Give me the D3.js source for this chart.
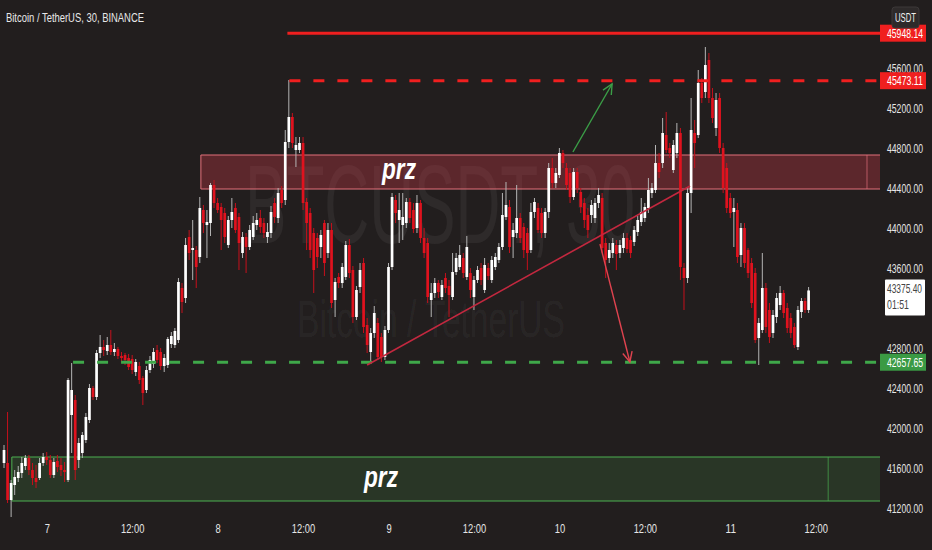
<!DOCTYPE html>
<html><head><meta charset="utf-8">
<script src="https://cdn.jsdelivr.net/npm/d3@7/dist/d3.min.js"></script>
<style>
html,body{margin:0;padding:0;background:#221e1e;}
svg{display:block;}
text{font-family:"Liberation Sans",Arial,sans-serif;}
</style></head><body>
<svg id="c" width="932" height="550"></svg>
<script>
// ---- data ----
const title = "Bitcoin / TetherUS, 30, BINANCE";
const startTime = Date.UTC(2022, 1, 6, 18, 0); // first 30m candle
const opens = [41650,41650,41280,41430,41500,41550,41620,41700,41580,41500,41500,41650,41710,41680,41530,41670,41630,41580,41480,42130,
42280,41680,41750,41880,42080,42400,42310,42750,42810,42770,42830,42760,42790,42720,42730,42700,42690,42560,42620,42500,
42380,42580,42640,42780,42760,42620,42630,42840,42830,42880,43400,43300,43910,43780,43780,43710,44180,44030,44050,44430,
44250,44210,44150,43830,44080,44200,44110,43750,43910,43810,43910,44030,44100,44050,43910,43950,44250,44100,44380,44280,
44860,45110,44780,44780,44850,44260,44150,43950,43900,43810,44050,43750,43980,43280,43510,43450,43510,43830,43580,43110,
43410,43650,43030,42760,42950,43050,42910,42710,42980,43610,44280,44080,44030,44050,44260,44180,44000,44250,43900,43850,
43280,43350,43450,43310,43500,43420,43310,43560,43610,43700,43510,43550,43310,43480,43600,43380,43600,43480,43610,43680,
43810,44110,44210,43910,43950,44100,44010,43950,43780,44160,44200,44150,43950,44160,44600,44450,44530,44750,44600,44550,
44310,44560,44360,44250,44130,44130,44100,44250,44300,43850,43700,43750,43830,43750,43800,43900,43880,43860,43960,44060,
44100,44200,44350,44380,44650,44650,44930,44800,44580,44750,44950,43600,43500,44350,44950,44930,45450,45360,45680,45300,
45000,45300,44800,44600,44300,44160,44180,43730,44000,43780,43650,43550,42900,42980,43400,43180,42950,43110,43230,43350,
43200,43100,43010,42810,43160,43270,43180];
const highs = [41830,42160,41480,41580,41620,41710,41730,41730,41650,41630,41700,41750,41760,41730,41700,41730,41700,41660,42500,42650,
42330,41900,41960,42150,42440,42420,42780,42930,42880,42910,42980,42850,42810,42760,42750,42740,42730,42690,42660,42520,
42620,42720,42800,42830,42800,42740,42910,42960,43000,43500,43450,43900,43980,44080,43820,44310,44230,44180,44450,44480,
44300,44250,44200,44120,44300,44250,44150,43960,43950,44030,44120,44150,44180,44100,44050,44220,44300,44400,44420,44980,
45480,45150,44910,44910,44910,44300,44200,44000,43950,43980,44080,44050,44050,43500,43550,43650,43870,43890,43620,43420,
43650,43700,43100,43000,43220,43100,42950,43020,43650,44350,44330,44350,44350,44300,44300,44250,44330,44280,44000,43900,
43450,43500,43480,43480,43550,43480,43750,43750,43830,43750,43920,43600,43520,43620,43650,43700,43650,43720,43750,43850,
44350,44460,44280,44050,44430,44150,44050,44000,44250,44300,44250,44200,44200,44650,44700,44600,44800,44780,44650,44600,
44600,44600,44400,44300,44200,44280,44300,44400,44350,43900,43850,43900,43880,43880,43950,43950,43920,44020,44120,44300,
44250,44500,44450,44830,44750,45100,45160,44850,44880,45050,45000,43650,44400,45300,45080,45580,45500,45810,45750,45400,
45350,45350,44850,44650,44350,44300,44250,44050,44050,43800,43700,43600,43100,43750,43450,43250,43180,43350,43420,43380,
43250,43150,43050,43220,43300,43300,43410];
const lows = [41600,41250,41110,41330,41460,41500,41580,41530,41430,41400,41480,41620,41630,41500,41500,41560,41520,41460,41460,41750,
41480,41600,41700,41850,42050,42280,42280,42700,42720,42730,42730,42720,42690,42660,42630,42580,42540,42520,42440,42230,
42350,42550,42600,42650,42580,42560,42600,42800,42800,42850,43150,43250,43680,43480,43400,43650,43950,43700,43920,44200,
44150,43780,43850,43800,44000,43950,43580,43700,43550,43780,43880,43980,43950,43900,43850,43900,44050,44050,44200,44230,
44800,44800,44610,44750,44180,43780,43700,43350,43600,43700,43520,43700,43200,43110,43400,43400,43480,43500,43050,43080,
43350,42950,42750,42650,42900,42680,42660,42680,42950,43580,44050,43850,43880,44000,44050,43950,43950,43850,43700,43250,
43110,43300,43300,43280,43350,43110,43280,43530,43580,43500,43480,43300,43180,43450,43430,43350,43480,43450,43580,43650,
43780,44080,43750,43700,43900,43850,43700,43580,43750,44100,43950,43900,43900,44100,44400,44400,44500,44600,44380,44250,
44280,44350,44150,44000,43900,44050,44050,44200,43750,43500,43650,43700,43580,43700,43750,43750,43700,43820,43920,44020,
44060,44150,44300,44350,44500,44600,44750,44700,44550,44700,43480,43180,43450,44150,44600,44900,45250,45300,45250,45050,
44920,44750,44350,44150,44100,43810,43650,43610,43600,43500,43200,42850,42630,42950,42950,42850,42900,43050,43180,43100,
42950,42900,42800,42780,43100,43150,43150];
const closes = [41780,41280,41450,41510,41560,41650,41700,41580,41500,41460,41650,41710,41680,41530,41660,41610,41580,41560,42480,42380,
41580,41850,41930,42110,42400,42310,42750,42810,42780,42830,42760,42790,42720,42700,42680,42610,42580,42660,42480,42350,
42580,42680,42760,42680,42620,42700,42890,42920,42970,43460,43260,43830,43750,43800,43610,44200,44050,44060,44430,44250,
44180,44080,43910,44080,44160,43980,43850,43910,43810,43980,44050,44080,44010,43950,43960,44160,44110,44350,44250,44860,
45110,44850,44830,44850,44250,44050,43780,43580,43710,43930,43650,43980,43250,43460,43450,43610,43830,43550,43110,43380,
43580,43010,42830,42950,43150,42710,42710,42980,43610,44310,44150,44180,44110,44260,44100,43990,44250,43900,43750,43310,
43350,43450,43360,43430,43400,43330,43560,43700,43730,43550,43810,43380,43480,43580,43480,43630,43520,43680,43710,43810,
44130,44230,43810,43980,44100,43900,43780,43750,44160,44260,43980,43950,44160,44600,44450,44550,44750,44650,44430,44310,
44560,44400,44210,44080,43980,44230,44250,44330,43800,43680,43780,43850,43740,43830,43900,43790,43750,43980,44080,44160,
44210,44380,44400,44650,44560,44950,44780,44750,44830,44950,43610,43500,44350,44980,44850,45450,45300,45630,45300,45100,
45280,44800,44400,44200,44150,44200,43710,44000,43650,43550,43250,42880,43050,43400,43010,42910,43130,43300,43350,43150,
43000,42950,42830,43180,43270,43180,43375.4];
const priceTicks = [41200,41600,42000,42400,42800,43600,44000,44400,44800,45200,45600];
const dayTicks = ["7","12:00","8","12:00","9","12:00","10","12:00","11","12:00"];
const levelHigh = 45948.14, levelMid = 45473.11, levelLow = 42657.65, lastPrice = 43375.40, countdown = "01:51";
const przUpper = {i0:55.3, i1:242.4, top:44730, bottom:44390};
const przLower = {i0:2.2, i1:231.5, top:41710, bottom:41270};
const trendline = [[102, 42630],[192.7, 44420]];
const greenArrow = [[159.8, 44760],[170.8, 45440]];
const redArrow = [[167.4, 43840],[175.8, 42660]];
const levelStart = 79.6;   // candle index where top levels start
const greenLevelStart = 19.4;

// ---- scales ----
const W = 932, H = 550, plotRight = 880;
const HALF = 30*60*1000;
const t = i => new Date(startTime + i*HALF);
const x = d3.scaleUtc().domain([t(0), t(226)]).range([4, 808.6]);
const xi = i => x(t(i));
const y = d3.scaleLinear().domain([41200, 45600]).range([508, 68]);
// narrow text helper: approx condensed width
const narrow = (s, fs) => { let w=0; for (const ch of s) w += (ch==="."||ch===":"||ch===","||ch===" ")?0.2:(ch==="/"?0.24:0.4); return w*fs; };
const FS = 13;

const svg = d3.select("#c");
svg.append("rect").attr("width",W).attr("height",H).attr("fill","#221e1e");

// watermark
svg.append("text").attr("x",440).attr("y",243).attr("text-anchor","middle")
  .attr("font-size",112).attr("fill","#ffffff").attr("fill-opacity",0.055)
  .attr("textLength",390).attr("lengthAdjust","spacingAndGlyphs").text("BTCUSDT, 30");
svg.append("text").attr("x",431).attr("y",337).attr("text-anchor","middle")
  .attr("font-size",52).attr("fill","#ffffff").attr("fill-opacity",0.055)
  .attr("textLength",268).attr("lengthAdjust","spacingAndGlyphs").text("Bitcoin / TetherUS");

// PRZ boxes
function przBox(b, fill, stroke){
  const g = svg.append("g");
  g.append("rect").attr("x",xi(b.i0)).attr("y",y(b.top)).attr("width",plotRight-xi(b.i0))
    .attr("height",y(b.bottom)-y(b.top)).attr("fill",fill).attr("stroke","none");
  g.append("line").attr("x1",xi(b.i0)).attr("x2",plotRight).attr("y1",y(b.top)).attr("y2",y(b.top)).attr("stroke",stroke);
  g.append("line").attr("x1",xi(b.i0)).attr("x2",plotRight).attr("y1",y(b.bottom)).attr("y2",y(b.bottom)).attr("stroke",stroke);
  g.append("line").attr("x1",xi(b.i0)).attr("x2",xi(b.i0)).attr("y1",y(b.top)).attr("y2",y(b.bottom)).attr("stroke",stroke);
  g.append("line").attr("x1",xi(b.i1)).attr("x2",xi(b.i1)).attr("y1",y(b.top)).attr("y2",y(b.bottom)).attr("stroke",stroke).attr("stroke-opacity",0.7);
}
przBox(przUpper, "rgba(205,60,72,0.34)", "#e2707a");
przBox(przLower, "rgba(70,150,70,0.2)", "#4caf50");

// candles
const data = opens.map((o,i)=>({i,o,h:highs[i],l:lows[i],c:closes[i]}));
const cg = svg.append("g");
cg.selectAll("line.w").data(data).enter().append("line")
  .attr("x1",d=>xi(d.i)).attr("x2",d=>xi(d.i)).attr("y1",d=>y(d.h)).attr("y2",d=>y(d.l))
  .attr("stroke",d=>d.c>=d.o?"#b5b5b5":"#c5101c").attr("stroke-width",1);
cg.selectAll("rect.b").data(data).enter().append("rect")
  .attr("x",d=>xi(d.i)-1.35).attr("width",2.7)
  .attr("y",d=>y(Math.max(d.o,d.c))).attr("height",d=>Math.max(1,Math.abs(y(d.o)-y(d.c))))
  .attr("fill",d=>d.c>=d.o?"#ffffff":"#e0121e");

// levels
svg.append("line").attr("x1",xi(levelStart)).attr("x2",plotRight).attr("y1",y(levelHigh)).attr("y2",y(levelHigh))
  .attr("stroke","#f01f1f").attr("stroke-width",3);
svg.append("line").attr("x1",xi(levelStart)+2).attr("x2",plotRight).attr("y1",y(levelMid)).attr("y2",y(levelMid))
  .attr("stroke","#f01f1f").attr("stroke-width",3).attr("stroke-dasharray","11,13");
svg.append("line").attr("x1",xi(greenLevelStart)).attr("x2",plotRight).attr("y1",y(levelLow)).attr("y2",y(levelLow))
  .attr("stroke","#3fa84a").attr("stroke-width",3).attr("stroke-dasharray","11,13");

// trendline & arrows
svg.append("line").attr("x1",xi(trendline[0][0])).attr("y1",y(trendline[0][1]))
  .attr("x2",xi(trendline[1][0])).attr("y2",y(trendline[1][1])).attr("stroke","#c3283f").attr("stroke-width",1.6);
function arrow(a, color){
  const x1=xi(a[0][0]), y1=y(a[0][1]), x2=xi(a[1][0]), y2=y(a[1][1]);
  svg.append("line").attr("x1",x1).attr("y1",y1).attr("x2",x2).attr("y2",y2).attr("stroke",color).attr("stroke-width",1.4);
  const ang=Math.atan2(y2-y1,x2-x1), L=11, s=0.45;
  const p=(da)=>[x2-L*Math.cos(ang+da), y2-L*Math.sin(ang+da)];
  const a1=p(s), a2=p(-s);
  svg.append("path").attr("d",`M${a1[0]},${a1[1]}L${x2},${y2}L${a2[0]},${a2[1]}`)
    .attr("fill","none").attr("stroke",color).attr("stroke-width",1.4);
}
arrow(greenArrow, "#3b9e47");
arrow(redArrow, "#e0434f");

// prz labels
function przLabel(cx, by){
  svg.append("text").attr("x",cx).attr("y",by).attr("text-anchor","middle")
    .attr("font-size",29).attr("font-weight","bold").attr("font-style","italic").attr("fill","#ffffff")
    .attr("textLength",34).attr("lengthAdjust","spacingAndGlyphs").text("prz");
}
przLabel(399, 179);
przLabel(381, 487);

// title
svg.append("text").attr("x",6).attr("y",22).attr("font-size",13).attr("fill","#e8e8e8")
  .attr("textLength",138).attr("lengthAdjust","spacingAndGlyphs").text(title);

// right axis
const axR = svg.append("g").attr("transform",`translate(${plotRight},0)`)
  .call(d3.axisRight(y).tickValues(priceTicks).tickSize(0).tickPadding(0).tickFormat(d3.format(".2f")));
axR.select(".domain").remove();
axR.selectAll("text").attr("x",43).attr("text-anchor","end").attr("font-size",FS).attr("fill","#e6e6e6")
  .style("font-family",'"Liberation Sans",Arial,sans-serif')
  .attr("textLength",36).attr("lengthAdjust","spacingAndGlyphs");

// bottom axis
const tickTimes = dayTicks.map((d,k)=>t(12+24*k));
const axB = svg.append("g").attr("transform","translate(0,524)")
  .call(d3.axisBottom(x).tickValues(tickTimes).tickSize(0).tickPadding(0).tickFormat((d,k)=>dayTicks[k]));
axB.select(".domain").remove();
axB.selectAll("text").attr("dy","0.71em").attr("font-size",FS).attr("fill","#e6e6e6")
  .style("font-family",'"Liberation Sans",Arial,sans-serif')
  .each(function(d,k){ const s=dayTicks[k]; d3.select(this).attr("textLength", narrow(s,FS)).attr("lengthAdjust","spacingAndGlyphs"); });

// price labels
function priceLabel(v, bg, fg){
  const cy=y(v);
  svg.append("rect").attr("x",plotRight).attr("y",cy-8.5).attr("width",46).attr("height",17).attr("fill",bg);
  svg.append("text").attr("x",plotRight+43).attr("y",cy).attr("dy","0.35em").attr("text-anchor","end")
    .attr("font-size",FS).attr("fill",fg).attr("textLength",36).attr("lengthAdjust","spacingAndGlyphs").text(d3.format(".2f")(v));
}
priceLabel(levelHigh, "#f01f1f", "#ffffff");
priceLabel(levelMid, "#f01f1f", "#ffffff");
priceLabel(levelLow, "#3a9a44", "#ffffff");
// current price box
const cpy = y(lastPrice);
svg.append("rect").attr("x",885).attr("y",cpy-11).attr("width",40).attr("height",36).attr("fill","#ffffff").attr("rx",1);
svg.append("text").attr("x",922).attr("y",cpy+3).attr("text-anchor","end").attr("font-size",FS).attr("fill","#444")
  .attr("textLength",35).attr("lengthAdjust","spacingAndGlyphs").text(d3.format(".2f")(lastPrice));
svg.append("text").attr("x",887).attr("y",cpy+19).attr("text-anchor","start").attr("font-size",FS).attr("fill","#444")
  .attr("textLength",22).attr("lengthAdjust","spacingAndGlyphs").text(countdown);

// currency box
svg.append("rect").attr("x",892).attr("y",7).attr("width",27).attr("height",21).attr("rx",3).attr("fill","#2e2a2a").attr("stroke","#3c3838");
svg.append("text").attr("x",905.5).attr("y",17.5).attr("dy","0.35em").attr("text-anchor","middle").attr("font-size",12).attr("fill","#f0f0f0")
  .attr("textLength",21).attr("lengthAdjust","spacingAndGlyphs").text("USDT");
</script></body></html>
